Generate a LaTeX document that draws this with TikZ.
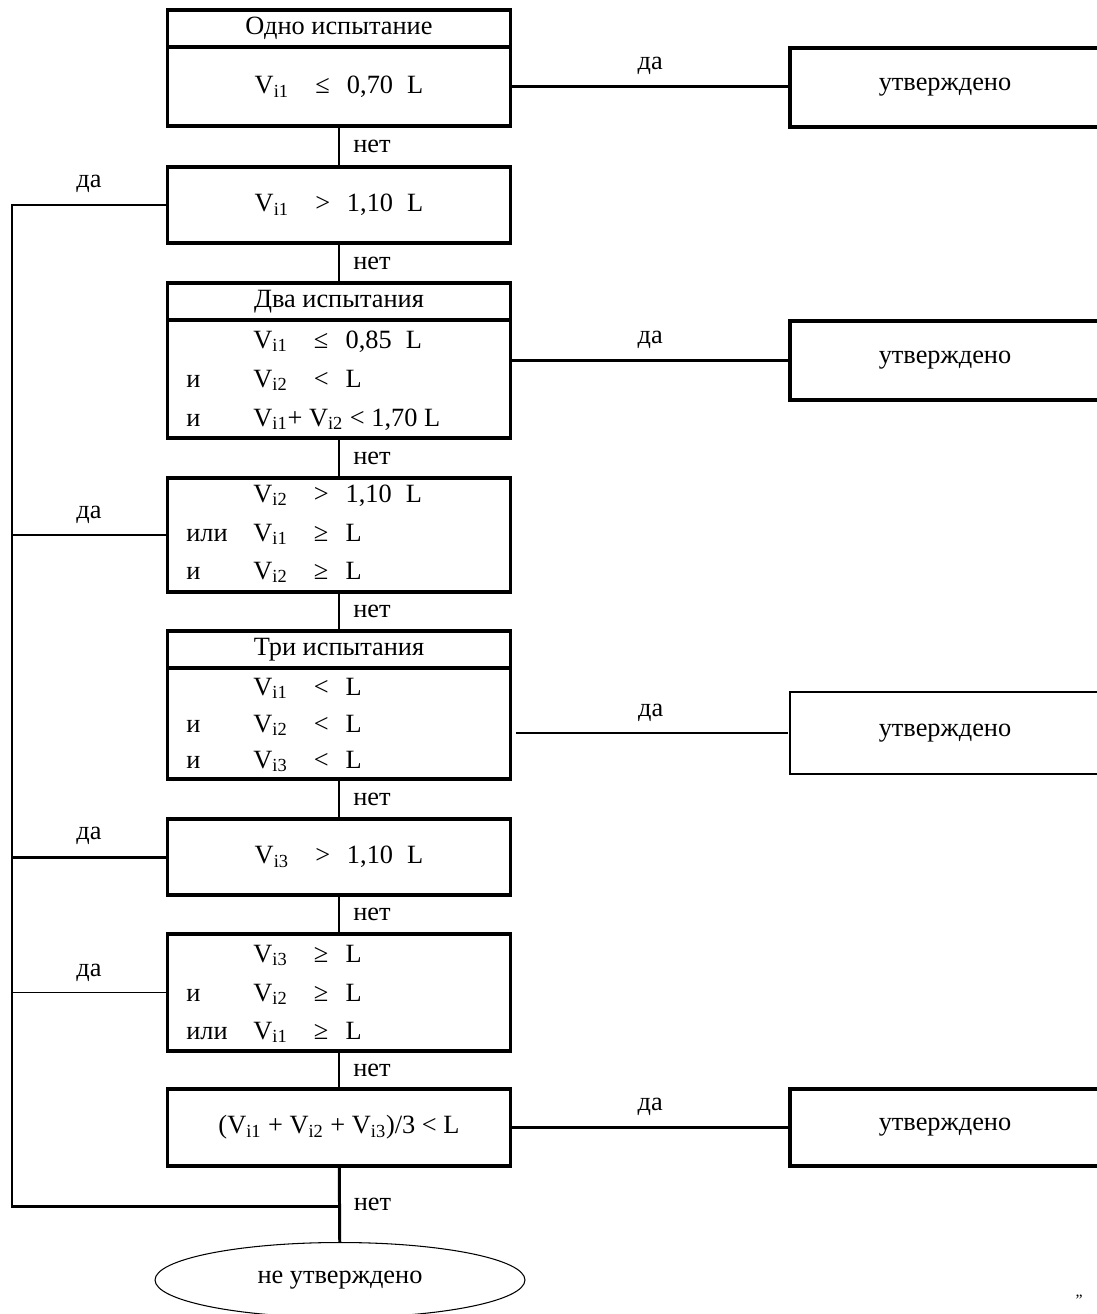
\documentclass[tikz,border=0pt]{standalone}
\usepackage{fontspec}
\setmainfont{Liberation Serif}
\usetikzlibrary{shapes.geometric}

\newcommand{\vi}[1]{V\textsubscript{i#1}}
\newcommand{\cond}[3]{\makebox[34.5pt][l]{#1}\makebox[18pt][l]{#2}#3}

\begin{document}
\begin{tikzpicture}[
        x=0.02cm, y=-0.02cm,
        font=\fontsize{15}{18}\selectfont,
        mainbox/.style={draw, line width=1.9pt, minimum width=6.86cm, inner sep=0pt},
        headbox/.style={mainbox, minimum height=0.74cm},
        okbox/.style={draw, line width=1.9pt, minimum width=6.2cm, minimum height=1.58cm},
        condrow/.style={anchor=base west, inner sep=0pt},
        flow/.style={line width=1.7pt},
        thinflow/.style={line width=0.75pt},
        yeslabel/.style={midway, above, inner sep=6pt},
        nolabel/.style={midway, right, xshift=4pt}
    ]
        \useasboundingbox (0,0) rectangle (1097,1314);

        % One test
        \node (h1) [headbox] at (339,28.5) {Одно испытание};
        \node (b1) [mainbox, minimum height=1.58cm] at (339,86.5) {\cond{\vi1}{≤}{0,70\hspace{8pt}L}};
        \node (ok1) [okbox] at (945,87.5) {утверждено};
        \draw[flow] (b1.east) -- (b1.east -| ok1.west) node[yeslabel] {да};

        \node (b2) [mainbox, minimum height=1.52cm] at (339,205) {\cond{\vi1}{>}{1,10\hspace{8pt}L}};
        \draw[flow] (b1) -- (b2) node[nolabel] {нет};

        % Two tests
        \node (h3) [headbox] at (339,301.5) {Два испытания};
        \node (b3) [mainbox, minimum height=2.36cm] at (339,379) {};
        \node (r31) [condrow] at (253,348) {\cond{\vi1}{≤}{0,85\hspace{8pt}L}};
        \node (p32) [condrow] at (186,387) {и};
        \node (r32) [condrow] at (253,387) {\cond{\vi2}{<}{L}};
        \node (p33) [condrow] at (186,426) {и};
        \node (r33) [condrow] at (253,426) {\vi1+ \vi2 < 1,70 L};
        \node (ok2) [okbox] at (945,360.5) {утверждено};
        \draw[flow] (b2) -- (h3) node[nolabel] {нет};
        \draw[flow] (b3.east |- ok2) -- (ok2.west) node[yeslabel] {да};

        \node (b4) [mainbox, minimum height=2.28cm] at (339,535) {};
        \node (r41) [condrow] at (253,502) {\cond{\vi2}{>}{1,10\hspace{8pt}L}};
        \node (p42) [condrow] at (186,541) {или};
        \node (r42) [condrow] at (253,541) {\cond{\vi1}{≥}{L}};
        \node (p43) [condrow] at (186,579) {и};
        \node (r43) [condrow] at (253,579) {\cond{\vi2}{≥}{L}};
        \draw[flow] (b3) -- (b4) node[nolabel] {нет};

        % Three tests
        \node (h5) [headbox] at (339,649.5) {Три испытания};
        \node (b5) [mainbox, minimum height=2.22cm] at (339,723.5) {};
        \node (r51) [condrow] at (253,695) {\cond{\vi1}{<}{L}};
        \node (p52) [condrow] at (186,732) {и};
        \node (r52) [condrow] at (253,732) {\cond{\vi2}{<}{L}};
        \node (p53) [condrow] at (186,768) {и};
        \node (r53) [condrow] at (253,768) {\cond{\vi3}{<}{L}};
        \node (ok3) [okbox, line width=0.75pt, minimum height=1.64cm] at (945,733) {утверждено};
        \draw[flow] (b4) -- (h5) node[nolabel] {нет};
        \draw[thinflow, shorten <=2pt, shorten >=1pt] (b5.east |- ok3) -- (ok3.west) node[yeslabel] {да};

        \node (b6) [mainbox, minimum height=1.52cm] at (339,857) {\cond{\vi3}{>}{1,10\hspace{8pt}L}};
        \draw[flow] (b5) -- (b6) node[nolabel] {нет};

        \node (b7) [mainbox, minimum height=2.34cm] at (339,992.5) {};
        \node (r71) [condrow] at (253,962) {\cond{\vi3}{≥}{L}};
        \node (p72) [condrow] at (186,1001) {и};
        \node (r72) [condrow] at (253,1001) {\cond{\vi2}{≥}{L}};
        \node (p73) [condrow] at (186,1039) {или};
        \node (r73) [condrow] at (253,1039) {\cond{\vi1}{≥}{L}};
        \draw[flow] (b6) -- (b7) node[nolabel] {нет};

        % Mean of three
        \node (b8) [mainbox, minimum height=1.54cm] at (339,1127.5) {(\vi1 + \vi2 + \vi3)/3 < L};
        \node (ok4) [okbox, minimum height=1.54cm] at (945,1127.5) {утверждено};
        \draw[flow] (b7) -- (b8) node[nolabel] {нет};
        \draw[flow] (b8.east) -- (ok4.west) node[yeslabel] {да};

        % Left rail of "да" branches
        \coordinate (rail1) at (12,205);
        \coordinate (railend) at (12,1206);
        \draw[flow] (b2.west) -- node[above, inner sep=6pt] {да} (rail1) -- (railend) -- (railend -| b8.south);
        \draw[thinflow] (b4.west) -- (b4.west -| rail1) node[yeslabel] {да};
        \draw[flow] (b6.west) -- (b6.west -| rail1) node[yeslabel] {да};
        \draw[thinflow] (b7.west) -- (b7.west -| rail1) node[yeslabel] {да};

        % End
        \node (fail) [ellipse, draw, line width=0.6pt, minimum width=7.4cm, minimum height=1.5cm] at (340,1280) {не утверждено};
        \draw[flow] (b8) -- (fail) node[nolabel] {нет};

        \node (mark) [font=\fontsize{9}{11}\selectfont] at (1079,1300) {\symbol{34}};
    \end{tikzpicture}
\end{document}
